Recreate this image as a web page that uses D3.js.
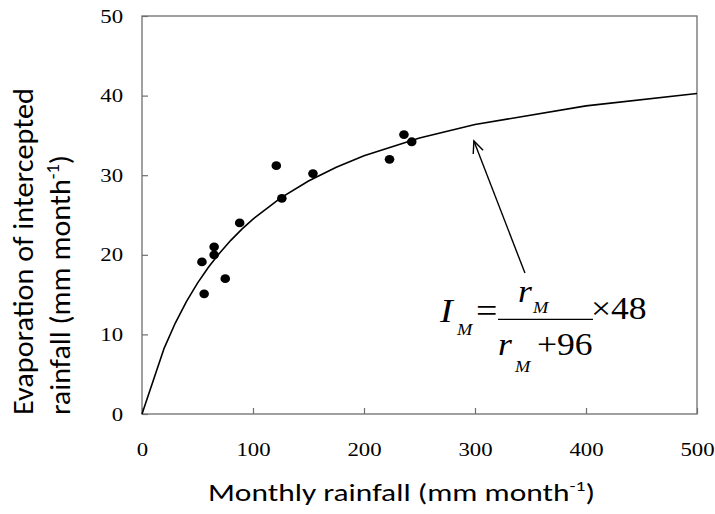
<!DOCTYPE html>
<html>
<head>
<meta charset="utf-8">
<script src="https://cdn.jsdelivr.net/npm/d3@7"></script>
<style>
  body { margin: 0; background: #fff; }
</style>
</head>
<body>
<svg id="chart" width="715" height="514"></svg>
<script>
// Observed monthly rainfall (mm/month) and evaporation of intercepted rainfall (mm/month)
const rainfall     = [54, 56, 65, 65, 75, 88, 121, 126, 154, 223, 236, 243];
const interception = [19.1, 15.1, 21.0, 20.0, 17.0, 24.0, 31.2, 27.1, 30.2, 32.0, 35.1, 34.2];

// Fitted curve I = r / (r + 96) * 48, tabulated
const curveRain = [0, 20, 30, 40, 50, 60, 70, 80, 90, 100, 125, 150, 175, 200, 250, 300, 400, 500];
const curveEvap = [0, 8.28, 11.43, 14.12, 16.44, 18.46, 20.24, 21.82, 23.23, 24.49, 27.15, 29.27, 31.00, 32.43, 34.68, 36.36, 38.71, 40.27];

const xTicks = [0, 100, 200, 300, 400, 500];
const yTicks = [0, 10, 20, 30, 40, 50];

// Arrow pointing from the equation to the curve (data units)
const arrowFrom = [345, 17.7];
const arrowTo   = [299, 34.3];

const SERIF = "'Liberation Serif', 'Times New Roman', serif";
const SANS  = "Carlito, Lato, 'Open Sans', sans-serif";
const FRAME = "#6e6e6e";
const SX = 1.2;   // horizontal stretch of tick labels
const SXE = 1.15; // horizontal stretch of the equation

const svg = d3.select("#chart");
const x = d3.scaleLinear().domain([0, 500]).range([142, 697]);
const y = d3.scaleLinear().domain([0, 50]).range([414, 16]);

// plot frame
svg.append("rect")
  .attr("x", x(0)).attr("y", y(50))
  .attr("width", x(500) - x(0)).attr("height", y(0) - y(50))
  .attr("fill", "none").attr("stroke", FRAME).attr("stroke-width", 1.3);

// bottom axis, inward ticks
const gx = svg.append("g")
  .attr("transform", `translate(0,${y(0)})`)
  .call(d3.axisBottom(x).tickValues(xTicks).tickSizeInner(-6).tickSizeOuter(0)
        .tickPadding(29).tickFormat(d3.format("d")));
gx.select(".domain").remove();
gx.selectAll(".tick line").attr("stroke", FRAME).attr("stroke-width", 1.2);
gx.selectAll(".tick text")
  .attr("font-family", SERIF).attr("font-size", 19).attr("fill", "#000")
  .attr("transform", `scale(${SX},1)`);

// left axis, inward ticks
const gy = svg.append("g")
  .attr("transform", `translate(${x(0)},0)`)
  .call(d3.axisLeft(y).tickValues(yTicks).tickSizeInner(-6).tickSizeOuter(0)
        .tickPadding(15.8).tickFormat(d3.format("d")));
gy.select(".domain").remove();
gy.selectAll(".tick line").attr("stroke", FRAME).attr("stroke-width", 1.2);
gy.selectAll(".tick text")
  .attr("font-family", SERIF).attr("font-size", 19).attr("fill", "#000")
  .attr("transform", `scale(${SX},1)`);

// fitted curve
const line = d3.line().x(d => x(d[0])).y(d => y(d[1]));
svg.append("path")
  .datum(curveRain.map((r, i) => [r, curveEvap[i]]))
  .attr("d", line)
  .attr("fill", "none").attr("stroke", "#000").attr("stroke-width", 1.6);

// observations
svg.append("g").selectAll("ellipse")
  .data(rainfall.map((r, i) => [r, interception[i]]))
  .join("ellipse")
  .attr("cx", d => x(d[0])).attr("cy", d => y(d[1]))
  .attr("rx", 4.8).attr("ry", 4.4)
  .attr("fill", "#000");

// arrow
const ax0 = x(arrowFrom[0]), ay0 = y(arrowFrom[1]);
const ax1 = x(arrowTo[0]),   ay1 = y(arrowTo[1]);
svg.append("line")
  .attr("x1", ax0).attr("y1", ay0).attr("x2", ax1).attr("y2", ay1)
  .attr("stroke", "#000").attr("stroke-width", 1.4);
const ang = Math.atan2(ay0 - ay1, ax0 - ax1);
const headLen = 13, headSpread = 0.42;
const headPts = [ang - headSpread, ang + headSpread].map(a => [ax1 + headLen * Math.cos(a), ay1 + headLen * Math.sin(a)]);
svg.append("path")
  .attr("d", `M${headPts[0][0]},${headPts[0][1]} L${ax1},${ay1} L${headPts[1][0]},${headPts[1][1]}`)
  .attr("fill", "none").attr("stroke", "#000").attr("stroke-width", 1.4);

// equation
const eq = svg.append("g");
function put(str, px, py, size, italic) {
  return eq.append("text")
    .attr("transform", `translate(${px},${py}) scale(${SXE},1)`)
    .attr("font-family", SERIF)
    .attr("font-size", size)
    .attr("font-style", italic ? "italic" : "normal")
    .attr("fill", "#000")
    .text(str);
}
put("I", 440, 321.7, 33, true);
put("M", 457, 335, 16, true);
put("=", 476, 321.7, 33, false);
eq.append("line").attr("x1", 498).attr("x2", 593).attr("y1", 319.3).attr("y2", 319.3)
  .attr("stroke", "#000").attr("stroke-width", 1.3);
put("r", 518, 302, 31, true);
put("M", 533, 313.3, 16, true);
put("r", 498, 355, 31, true);
put("M", 515, 371.7, 16, true);
put("+", 537, 355, 31, false);
put("96", 557, 355, 31, false);
put("\u00d7", 591, 319.3, 31, false);
put("48", 611, 319.3, 31, false);

// x-axis title
const xt = svg.append("text")
  .attr("x", 208).attr("y", 501)
  .attr("font-family", SANS).attr("font-size", 24).attr("fill", "#000")
  .attr("textLength", 387).attr("lengthAdjust", "spacingAndGlyphs");
xt.append("tspan").text("Monthly rainfall (mm month");
xt.append("tspan").attr("font-size", 15).attr("dy", -10).text("-1");
xt.append("tspan").attr("dy", 10).text(")");

// y-axis title (two lines)
svg.append("text")
  .attr("transform", "translate(33,415) rotate(-90)")
  .attr("font-family", SANS).attr("font-size", 29).attr("fill", "#000")
  .attr("textLength", 327).attr("lengthAdjust", "spacingAndGlyphs")
  .text("Evaporation of intercepted");
const yt2 = svg.append("text")
  .attr("transform", "translate(70,415) rotate(-90)")
  .attr("font-family", SANS).attr("font-size", 29).attr("fill", "#000")
  .attr("textLength", 260).attr("lengthAdjust", "spacingAndGlyphs");
yt2.append("tspan").text("rainfall (mm month");
yt2.append("tspan").attr("font-size", 18).attr("dy", -11).text("-1");
yt2.append("tspan").attr("dy", 11).text(")");
</script>
</body>
</html>
